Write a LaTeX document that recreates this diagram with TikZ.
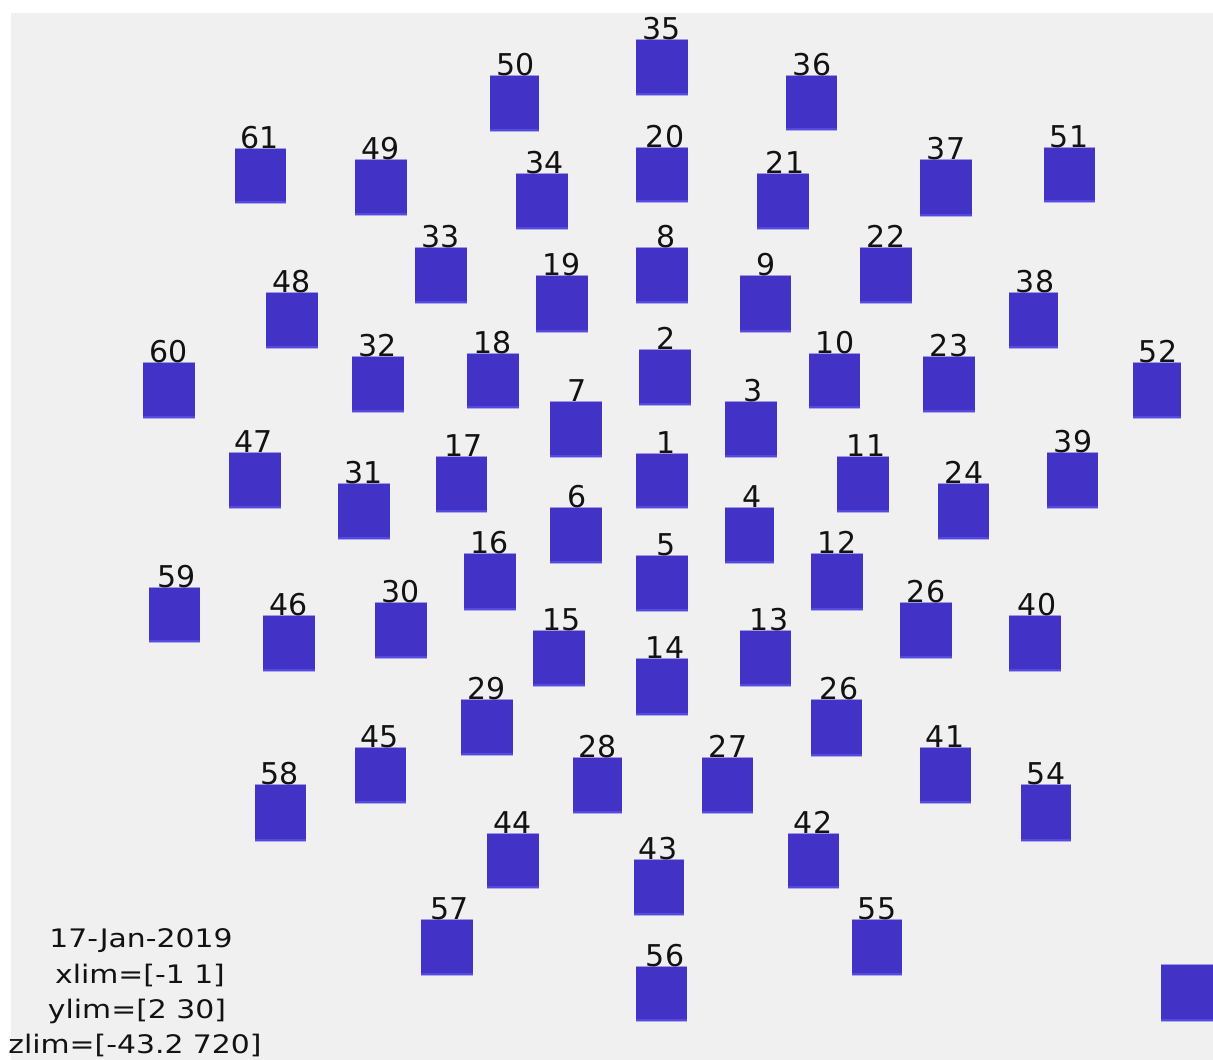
\documentclass[tikz,border=0pt]{standalone}
\usepackage{fontspec}
\setmainfont{DejaVu Sans}
\definecolor{bgray}{RGB}{240,240,240}
\definecolor{sqblue}{RGB}{66,50,198}
\definecolor{sqtop}{RGB}{160,152,225}
\definecolor{sqbot}{RGB}{84,74,226}
\definecolor{sqedge}{RGB}{175,170,232}
\definecolor{txt}{RGB}{18,18,18}
\tikzset{
  sq/.style={rectangle, fill=sqblue, draw=none, inner sep=0pt, outer sep=0pt, anchor=north west},
  topedge/.style={draw=sqtop, line width=1.4pt},
  botedge/.style={draw=sqbot, line width=2pt},
  botlight/.style={draw=sqedge, line width=1pt},
  lab/.style={anchor=base, inner sep=0pt, outer sep=0pt, text=txt, font=\fontsize{30}{36}\selectfont},
  info/.style={anchor=base, inner sep=0pt, outer sep=0pt, text=txt, font=\fontsize{25.5}{30}\selectfont},
}
\newcommand\elecsq[5]{%
  \node[sq, minimum width={#4pt-#2pt}, minimum height={#5pt-#3pt}] (s#1) at (#2,#3) {};
  \draw[topedge] ([yshift=-0.7pt]s#1.north west) -- ([yshift=-0.7pt]s#1.north east);
  \draw[botedge] ([yshift=1.5pt]s#1.south west) -- ([yshift=1.5pt]s#1.south east);
  \draw[botlight] ([yshift=0pt]s#1.south west) -- ([yshift=0pt]s#1.south east);
}
\newcommand\elec[7]{%
  \elecsq{#1}{#2}{#3}{#4}{#5}
  \node[lab] (l#1) at (#6,#3) {#7};
}
\begin{document}
\begin{tikzpicture}[x=1pt,y=-1pt]
\useasboundingbox (0,0) rectangle (1213,1060);
\fill[white] (0,0) rectangle (1213,1060);
\fill[bgray] (11,13) rectangle (1213,1060);
\elec{35}{636}{39}{688}{95}{662}{35}
\elec{50}{490}{75}{539}{131}{516}{50}
\elec{36}{786}{75}{837}{130}{812}{36}
\elec{61}{235}{148}{286}{203}{260}{61}
\elec{49}{355}{159}{407}{215}{381}{49}
\elec{34}{516}{173}{568}{229}{545}{34}
\elec{20}{636}{147}{688}{202}{665}{20}
\elec{21}{757}{173}{809}{229}{785}{21}
\elec{37}{920}{159}{972}{216}{946}{37}
\elec{51}{1044}{147}{1095}{202}{1069}{51}
\elec{33}{415}{247}{467}{303}{441}{33}
\elec{19}{536}{275}{588}{332}{562}{19}
\elec{8}{636}{247}{688}{303}{666}{8}
\elec{9}{740}{275}{791}{332}{766}{9}
\elec{22}{860}{247}{912}{303}{886}{22}
\elec{48}{266}{292}{318}{348}{292}{48}
\elec{38}{1009}{292}{1058}{348}{1035}{38}
\elec{60}{143}{362}{195}{418}{169}{60}
\elec{32}{352}{356}{404}{412}{378}{32}
\elec{18}{467}{353}{519}{408}{493}{18}
\elec{2}{639}{349}{691}{405}{666}{2}
\elec{10}{809}{353}{860}{408}{835}{10}
\elec{23}{923}{356}{975}{412}{949}{23}
\elec{52}{1133}{362}{1181}{418}{1158}{52}
\elec{7}{550}{401}{602}{457}{577}{7}
\elec{3}{725}{401}{777}{457}{753}{3}
\elec{1}{636}{453}{688}{508}{666}{1}
\elec{47}{229}{452}{281}{508}{254}{47}
\elec{31}{338}{483}{390}{539}{364}{31}
\elec{17}{436}{456}{487}{512}{464}{17}
\elec{11}{837}{456}{889}{512}{866}{11}
\elec{24}{938}{483}{989}{539}{964}{24}
\elec{39}{1047}{452}{1098}{508}{1073}{39}
\elec{6}{550}{507}{602}{563}{577}{6}
\elec{4}{725}{507}{774}{563}{752}{4}
\elec{16}{464}{553}{516}{610}{490}{16}
\elec{5}{636}{555}{688}{611}{666}{5}
\elec{12}{811}{553}{863}{610}{837}{12}
\elec{59}{149}{587}{200}{642}{177}{59}
\elec{46}{263}{615}{315}{671}{289}{46}
\elec{30}{375}{602}{427}{658}{401}{30}
\elec{26a}{900}{602}{952}{658}{926}{26}
\elec{40}{1009}{615}{1061}{671}{1037}{40}
\elec{15}{533}{630}{585}{686}{562}{15}
\elec{13}{740}{630}{791}{686}{769}{13}
\elec{14}{636}{658}{688}{715}{665}{14}
\elec{29}{461}{699}{513}{755}{487}{29}
\elec{26b}{811}{699}{862}{756}{839}{26}
\elec{45}{355}{747}{406}{803}{380}{45}
\elec{41}{920}{747}{971}{803}{945}{41}
\elec{28}{573}{757}{622}{813}{598}{28}
\elec{27}{702}{757}{753}{813}{728}{27}
\elec{58}{255}{784}{306}{841}{280}{58}
\elec{54}{1021}{784}{1071}{841}{1046}{54}
\elec{44}{487}{833}{539}{888}{513}{44}
\elec{42}{788}{833}{839}{888}{813}{42}
\elec{43}{634}{859}{684}{915}{658}{43}
\elec{57}{421}{919}{473}{975}{450}{57}
\elec{55}{852}{919}{902}{975}{877}{55}
\elec{56}{636}{966}{687}{1021}{665}{56}
\elecsq{extra}{1161}{964}{1213}{1021}
\node[info] (t1) at (141,947) {\scalebox{1.17}[1]{17-Jan-2019}};
\node[info] (t2) at (140,983) {\scalebox{1.17}[1]{xlim=[-1 1]}};
\node[info] (t3) at (137,1018) {\scalebox{1.17}[1]{ylim=[2 30]}};
\node[info] (t4) at (135,1053) {\scalebox{1.17}[1]{zlim=[-43.2 720]}};
\end{tikzpicture}
\end{document}
